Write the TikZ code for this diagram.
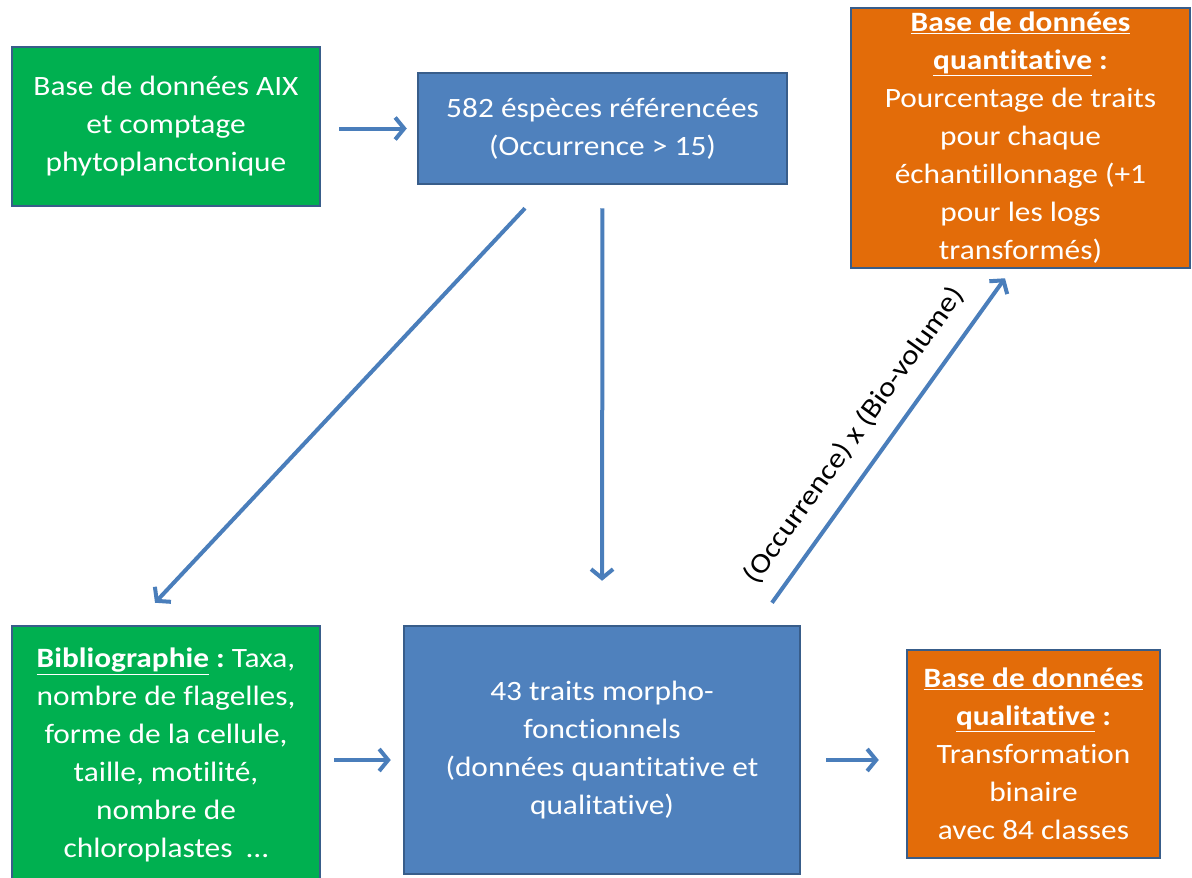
\documentclass[tikz,border=0pt]{standalone}
\usepackage{fontspec}
\setmainfont{Carlito}[FakeStretch=1.12, Ligatures=NoCommon]
\usetikzlibrary{arrows.meta}

\definecolor{boxgreen}{HTML}{00B050}
\definecolor{boxblue}{HTML}{4F81BD}
\definecolor{boxorange}{HTML}{E36C09}
\definecolor{boxedge}{HTML}{385D8A}
\definecolor{arrowblue}{HTML}{4A7EBB}

\begin{document}
\begin{tikzpicture}[x=1pt,y=-1pt]
      \tikzstyle{every node}+=[font=\fontsize{28}{38}\selectfont]
      \tikzstyle{box}=[draw=boxedge, line width=2.5pt, text=white, align=center, inner sep=0pt]
      \tikzstyle{arr}=[draw=arrowblue, line width=4pt, -{Straight Barb[length=9pt,width=22pt]}]
      \useasboundingbox (0,0) rectangle (1192,878);
      \node [box, fill=boxgreen, minimum width=308pt, minimum height=159pt] (aix) at (166,126.5)
            {Base de données AIX\\et comptage\\phytoplanctonique};
      \node [box, fill=boxblue, minimum width=369pt, minimum height=111pt] (especes) at (602.5,128.5)
            {582 éspèces référencées\\(Occurrence > 15)};
      \node [box, fill=boxorange, minimum width=339pt, minimum height=260pt] (quanti) at (1020.5,138)
            {\underline{\textbf{Base de données}}\\\underline{\textbf{quantitative}}\textbf{ :}\\Pourcentage de traits\\pour chaque\\échantillonnage (+1\\pour les logs\\transformés)};
      \node [box, fill=boxgreen, minimum width=308pt, minimum height=258pt] (biblio) at (166,755)
            {\underline{\textbf{Bibliographie}}\textbf{ :}~Taxa,\\nombre de flagelles,\\forme de la cellule,\\taille, motilité,\\nombre de\\chloroplastes~ …};
      \node [box, fill=boxblue, minimum width=396pt, minimum height=248pt] (traits) at (602,750)
            {43 traits morpho-\\fonctionnels\\(données quantitative et\\qualitative)};
      \node [box, fill=boxorange, minimum width=253pt, minimum height=208pt] (quali) at (1033.5,754)
            {\underline{\textbf{Base de données}}\\\underline{\textbf{qualitative}}\textbf{ :}\\Transformation\\binaire\\avec 84 classes};
      \draw [arr, shorten <=18pt, shorten >=10pt] (aix.east |- especes.west) -- (especes.west);
      \draw [arr] ([xshift=-77.5pt,yshift=-23pt]especes.south) -- ([xshift=-11pt,yshift=22pt]biblio.north);
      \draw [arr, shorten <=23pt, shorten >=44pt] (especes.south) -- (traits.north);
      \draw [arr] ([xshift=170pt,yshift=22pt]traits.north) -- ([xshift=-15.5pt,yshift=-9pt]quanti.south)
            node [pos=0.46, sloped, above=17pt, inner sep=0pt] (produit) {(Occurrence) x (Bio-volume)};
      \draw [arr, shorten <=13pt, shorten >=12pt] ([yshift=-5pt]biblio.east) -- ([yshift=-10pt]traits.west);
      \draw [arr, shorten <=25pt, shorten >=27pt] ([yshift=-10pt]traits.east) -- ([yshift=-6pt]quali.west);
\end{tikzpicture}
\end{document}
